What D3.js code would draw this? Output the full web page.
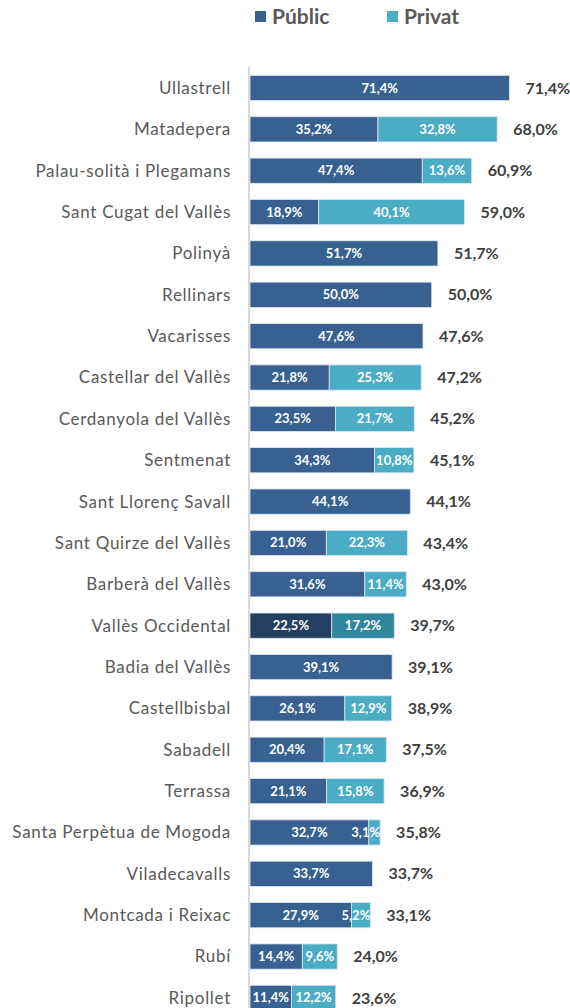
<!DOCTYPE html>
<html>
<head>
<meta charset="utf-8">
<script src="https://cdn.jsdelivr.net/npm/d3@7"></script>
<style>
  body { margin: 0; background: #fff; }
  svg text { font-family: Lato, "Open Sans", sans-serif; }
</style>
</head>
<body>
<svg width="570" height="1008"></svg>
<script>
// Data
const municipis = [
  'Ullastrell', 'Matadepera', 'Palau-solità i Plegamans', 'Sant Cugat del Vallès',
  'Polinyà', 'Rellinars', 'Vacarisses', 'Castellar del Vallès', 'Cerdanyola del Vallès',
  'Sentmenat', 'Sant Llorenç Savall', 'Sant Quirze del Vallès', 'Barberà del Vallès',
  'Vallès Occidental', 'Badia del Vallès', 'Castellbisbal', 'Sabadell', 'Terrassa',
  'Santa Perpètua de Mogoda', 'Viladecavalls', 'Montcada i Reixac', 'Rubí', 'Ripollet'
];
const publicVals = [71.4, 35.2, 47.4, 18.9, 51.7, 50.0, 47.6, 21.8, 23.5, 34.3, 44.1, 21.0, 31.6,
  22.5, 39.1, 26.1, 20.4, 21.1, 32.7, 33.7, 27.9, 14.4, 11.4];
const privatVals = [0, 32.8, 13.6, 40.1, 0, 0, 0, 25.3, 21.7, 10.8, 0, 22.3, 11.4,
  17.2, 0, 12.9, 17.1, 15.8, 3.1, 0, 5.2, 9.6, 12.2];
const totalVals = [71.4, 68.0, 60.9, 59.0, 51.7, 50.0, 47.6, 47.2, 45.2, 45.1, 44.1, 43.4, 43.0,
  39.7, 39.1, 38.9, 37.5, 36.9, 35.8, 33.7, 33.1, 24.0, 23.6];
const series = ['Públic', 'Privat'];
const highlight = 'Vallès Occidental';

const colors = { 'Públic': '#386192', 'Privat': '#4bacc6' };
const colorsHi = { 'Públic': '#243f60', 'Privat': '#31859c' };

const svg = d3.select('svg');
const x0 = 250;

const x = d3.scaleLinear().domain([0, 71.4]).range([x0, 509.5]);
const y = d3.scaleBand().domain(municipis).range([67.3, 67.3 + 23 * 41.36]).paddingInner(0.39).paddingOuter(0.195);

const fmt = v => d3.format('.1f')(v).replace('.', ',') + '%';

const rows = municipis.map((m, i) => ({
  name: m, pub: publicVals[i], priv: privatVals[i], total: totalVals[i]
}));

// Legend
const legend = svg.append('g');
const legX = [255, 387];
series.forEach((s, i) => {
  legend.append('rect')
    .attr('x', legX[i]).attr('y', 11)
    .attr('width', 11).attr('height', 11)
    .attr('fill', colors[s]);
  legend.append('text')
    .attr('x', legX[i] + 17).attr('y', 24)
    .attr('font-size', 21).attr('font-weight', 'bold')
    .attr('fill', '#595959')
    .text(s);
});

// Bars
const g = svg.append('g');
rows.forEach(d => {
  const c = d.name === highlight ? colorsHi : colors;
  const yy = y(d.name), h = y.bandwidth();
  const segs = [
    { key: 'Públic', from: 0, to: d.pub, v: d.pub },
    { key: 'Privat', from: d.pub, to: d.pub + d.priv, v: d.priv }
  ].filter(s => s.v > 0);
  segs.forEach(s => {
    g.append('rect')
      .attr('x', x(s.from)).attr('y', yy)
      .attr('width', x(s.to) - x(s.from)).attr('height', h)
      .attr('fill', c[s.key])
      .attr('stroke', '#dce6f2').attr('stroke-width', 0.8);
    const t = g.append('text')
      .attr('x', (x(s.from) + x(s.to)) / 2).attr('y', yy + h / 2)
      .attr('dy', '0.35em')
      .attr('text-anchor', 'middle')
      .attr('font-size', 13).attr('font-weight', 'bold')
      .attr('fill', '#fff')
      .text(fmt(s.v));
    // label too wide for its piece: keep it inside the bar end
    const w = t.node().getComputedTextLength();
    if ((x(s.from) + x(s.to)) / 2 + w / 2 > x(s.to)) {
      t.attr('x', x(s.to)).attr('text-anchor', 'end');
    }
  });
  // total label
  g.append('text')
    .attr('x', x(d.pub + d.priv) + 16).attr('y', yy + h / 2)
    .attr('dy', '0.35em')
    .attr('font-size', 16).attr('font-weight', 'bold')
    .attr('fill', '#404040')
    .text(fmt(d.total));
  // category label
  g.append('text')
    .attr('x', 231).attr('y', yy + h / 2)
    .attr('dy', '0.35em')
    .attr('text-anchor', 'end')
    .attr('font-size', 17).attr('letter-spacing', '0.7px')
    .attr('fill', '#595959')
    .text(d.name);
});

// Axis line
svg.append('line')
  .attr('x1', 249).attr('x2', 249)
  .attr('y1', 66.5).attr('y2', 1008)
  .attr('stroke', '#d9d9d9').attr('stroke-width', 2);
</script>
</body>
</html>
